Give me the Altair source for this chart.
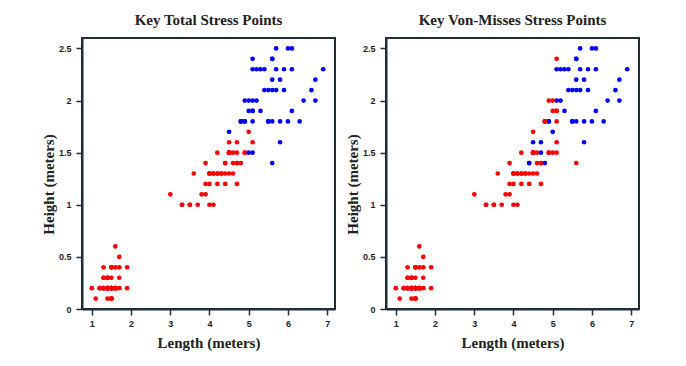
import altair as alt
import pandas as pd

petal_length = [
    1.4, 1.4, 1.3, 1.5, 1.4, 1.7, 1.4, 1.5, 1.4, 1.5,
    1.5, 1.6, 1.4, 1.1, 1.2, 1.5, 1.3, 1.4, 1.7, 1.5,
    1.7, 1.5, 1.0, 1.7, 1.9, 1.6, 1.6, 1.5, 1.4, 1.6,
    1.6, 1.5, 1.5, 1.4, 1.5, 1.2, 1.3, 1.5, 1.3, 1.5,
    1.3, 1.3, 1.3, 1.6, 1.9, 1.4, 1.6, 1.4, 1.5, 1.4,
    4.7, 4.5, 4.9, 4.0, 4.6, 4.5, 4.7, 3.3, 4.6, 3.9,
    3.5, 4.2, 4.0, 4.7, 3.6, 4.4, 4.5, 4.1, 4.5, 3.9,
    4.8, 4.0, 4.9, 4.7, 4.3, 4.4, 4.8, 5.0, 4.5, 3.5,
    3.8, 3.7, 3.9, 5.1, 4.5, 4.5, 4.7, 4.4, 4.1, 4.0,
    4.4, 4.6, 4.0, 3.3, 4.2, 4.2, 4.2, 4.3, 3.0, 4.1,
    6.0, 5.1, 5.9, 5.6, 5.8, 6.6, 4.5, 6.3, 5.8, 6.1,
    5.1, 5.3, 5.5, 5.0, 5.1, 5.3, 5.5, 6.7, 6.9, 5.0,
    5.7, 4.9, 6.7, 4.9, 5.7, 6.0, 4.8, 4.9, 5.6, 5.8,
    6.1, 6.4, 5.6, 5.1, 5.6, 6.1, 5.6, 5.5, 4.8, 5.4,
    5.6, 5.1, 5.1, 5.9, 5.7, 5.2, 5.0, 5.2, 5.4, 5.1,
]
petal_height = [
    0.2, 0.2, 0.2, 0.2, 0.2, 0.4, 0.3, 0.2, 0.2, 0.1,
    0.2, 0.2, 0.1, 0.1, 0.2, 0.4, 0.4, 0.3, 0.3, 0.3,
    0.2, 0.4, 0.2, 0.5, 0.2, 0.2, 0.4, 0.2, 0.2, 0.2,
    0.2, 0.4, 0.1, 0.2, 0.1, 0.2, 0.2, 0.1, 0.2, 0.2,
    0.3, 0.3, 0.2, 0.6, 0.4, 0.3, 0.2, 0.2, 0.2, 0.2,
    1.4, 1.5, 1.5, 1.3, 1.5, 1.3, 1.6, 1.0, 1.3, 1.4,
    1.0, 1.5, 1.0, 1.4, 1.3, 1.4, 1.5, 1.0, 1.5, 1.1,
    1.8, 1.3, 1.5, 1.2, 1.3, 1.4, 1.4, 1.7, 1.5, 1.0,
    1.1, 1.0, 1.2, 1.6, 1.5, 1.6, 1.5, 1.3, 1.3, 1.3,
    1.2, 1.4, 1.2, 1.0, 1.3, 1.2, 1.3, 1.3, 1.1, 1.3,
    2.5, 1.9, 2.1, 1.8, 2.2, 2.1, 1.7, 1.8, 1.8, 2.5,
    2.0, 1.9, 2.1, 2.0, 2.4, 2.3, 1.8, 2.2, 2.3, 1.5,
    2.3, 2.0, 2.0, 1.8, 2.1, 1.8, 1.8, 1.8, 2.1, 1.6,
    1.9, 2.0, 2.2, 1.5, 1.4, 2.3, 2.4, 1.8, 1.8, 2.1,
    2.4, 2.3, 1.9, 2.3, 2.5, 2.3, 1.9, 2.0, 2.3, 1.8,
]

# Point classes (R = red, B = blue), ten points per string
total_class = list(
    "RRRRRRRRRR" "RRRRRRRRRR" "RRRRRRRRRR" "RRRRRRRRRR" "RRRRRRRRRR"
    "RRRRRRRRRR" "RRRRRRRRRR" "RRRRRRRRRR" "RRRRRRRRRR" "RRRRRRRRRR"
    "BBBBBBBBBB" "BBBBBBBBBB" "BBBBBBBBBB" "BBBBBBBBBB" "BBBBBBBBBB"
)
vm_class = list(
    "RRRRRRRRRR" "RRRRRRRRRR" "RRRRRRRRRR" "RRRRRRRRRR" "RRRRRRRRRR"
    "RRRRRRBRRR" "RRRRRBRRRR" "RRRRRBBBRR" "RRRRRBBRRR" "RRRRRRRRRR"
    "BRBBBBRBBB" "BBBRRBBBBR" "BRBBBBRBBB" "BBBRRBBBRB" "BBRBBBRBBR"
)

titles = ["Key Total Stress Points", "Key Von-Misses Stress Points"]
x_ticks = [1, 2, 3, 4, 5, 6, 7]
y_ticks = [0, 0.5, 1, 1.5, 2, 2.5]
class_names = ["R", "B"]
class_colors = ["#ff0000", "#0000ff"]


def panel(cls, title):
    df = pd.DataFrame({"length": petal_length, "height": petal_height, "cls": cls})
    return (
        alt.Chart(df)
        .mark_circle(size=22, opacity=1)
        .encode(
            x=alt.X(
                "length:Q",
                scale=alt.Scale(domain=[0.75, 7.2], nice=False, zero=False),
                axis=alt.Axis(values=x_ticks, title="Length (meters)", format="~g"),
            ),
            y=alt.Y(
                "height:Q",
                scale=alt.Scale(domain=[0, 2.6], nice=False),
                axis=alt.Axis(values=y_ticks, title="Height (meters)", format="~g",
                              titleY=146),
            ),
            color=alt.Color(
                "cls:N",
                scale=alt.Scale(domain=class_names, range=class_colors),
                legend=None,
            ),
        )
        .properties(width=253, height=271, title=title)
    )


chart = (
    alt.hconcat(panel(total_class, titles[0]), panel(vm_class, titles[1]), spacing=8)
    .properties(padding={"left": 32, "top": 4, "right": 5, "bottom": 5})
    .configure_view(stroke="#1f2d3a", strokeWidth=2)
    .configure_axis(
        grid=False,
        domainColor="#1f2d3a",
        domainWidth=2,
        tickColor="#1f2d3a",
        tickWidth=1.5,
        tickSize=6,
        labelFont="Liberation Sans",
        labelFontWeight="bold",
        labelFontSize=9,
        labelColor="#222222",
        titleFont="Liberation Serif",
        titleFontSize=15,
        titleFontWeight="bold",
        titleColor="#222222",
    )
    .configure_axisX(labelPadding=4, titlePadding=7)
    .configure_axisY(labelPadding=5, titlePadding=2)
    .configure_title(
        font="Liberation Serif", fontSize=15, fontWeight="bold", color="#222222", offset=10
    )
)

chart.save("out.html", embed_options={"renderer": "svg", "actions": False})
